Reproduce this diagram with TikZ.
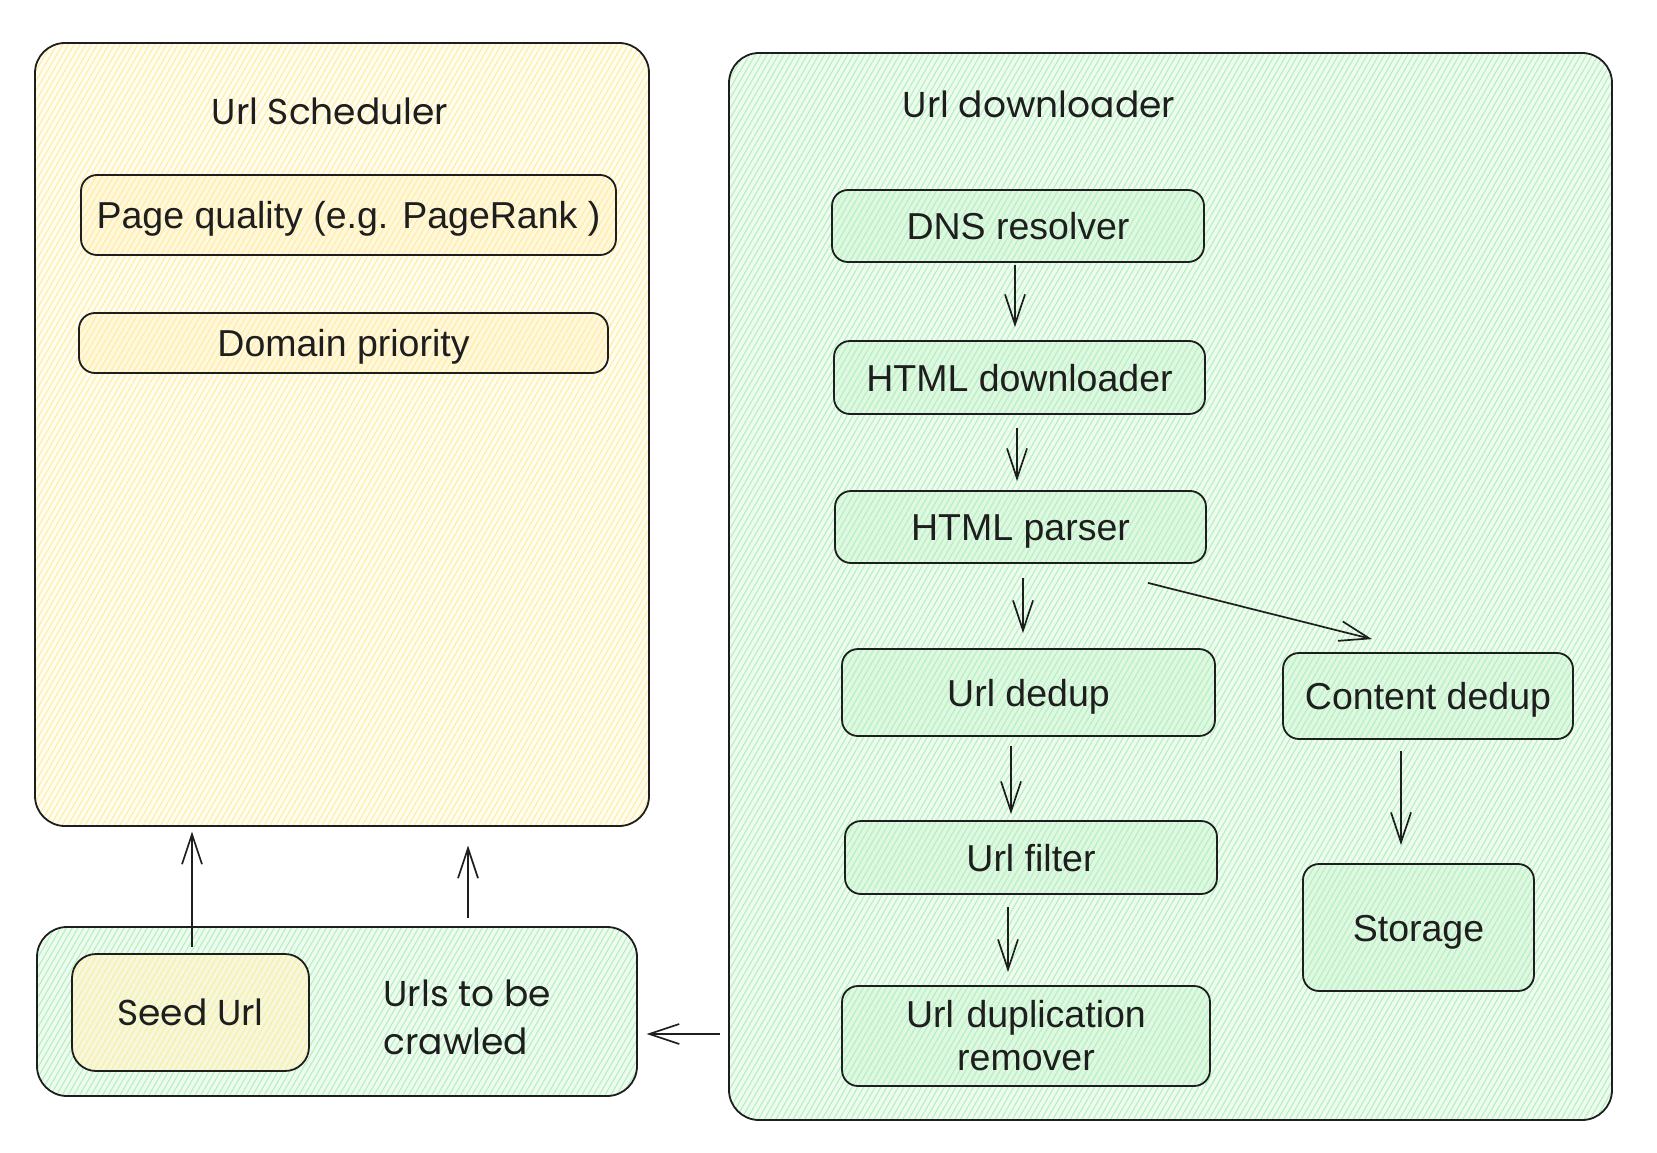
\documentclass[tikz,border=0pt]{standalone}
\usepackage{fontspec}
\setmainfont{Liberation Sans}
\newfontfamily\handfont{Poppins}
\usetikzlibrary{arrows.meta,patterns.meta}
\definecolor{yelfill}{HTML}{FFFDF0}
\definecolor{yelline}{HTML}{FFEBA0}
\definecolor{yelfillB}{HTML}{FFF8DC}
\definecolor{seedfill}{HTML}{F4F8DC}
\definecolor{grnfill}{HTML}{EFFBF1}
\definecolor{grnline}{HTML}{B2F2BB}
\definecolor{grnfillB}{HTML}{DFF7E3}
\definecolor{ink}{HTML}{1E1E1E}
\tikzset{
  lbl/.style={font=\fontsize{37.5}{44}\selectfont, text=ink},
  onel/.style={text height=27pt, text depth=0pt},
  hand/.style={font=\handfont\fontsize{36}{48}\selectfont, text=ink},
  ybig/.style={draw=ink, line width=1.8pt, rounded corners=30pt,
    preaction={fill=yelfill}, pattern={Lines[angle=60,distance=5pt,line width=1pt]}, pattern color=yelline},
  gbig/.style={draw=ink, line width=1.8pt, rounded corners=30pt,
    preaction={fill=grnfill}, pattern={Lines[angle=60,distance=5pt,line width=1.1pt]}, pattern color=grnline},
  ybox/.style={draw=ink, line width=1.8pt, rounded corners=16pt, lbl, onel,
    preaction={fill=yelfillB}, pattern={Lines[angle=60,distance=5pt,line width=1pt]}, pattern color=yelline},
  gbox/.style={draw=ink, line width=1.8pt, rounded corners=16pt, lbl, align=center,
    preaction={fill=grnfillB}, pattern={Lines[angle=60,distance=5pt,line width=1.1pt]}, pattern color=grnline},
  sbox/.style={draw=ink, line width=1.8pt, rounded corners=24pt, hand,
    preaction={fill=seedfill}, pattern={Lines[angle=60,distance=5pt,line width=1pt]}, pattern color=yelline},
  arr/.style={draw=ink, line width=1.7pt, -{Straight Barb[length=30pt,width=20pt,line width=1.7pt]}},
}
\begin{document}
\begin{tikzpicture}[x=1pt,y=-1pt]
\useasboundingbox[fill=white] (0,0) rectangle (1657,1153);
% containers
\node[ybig, minimum width=614pt, minimum height=783pt] (sched) at (342,434.5) {};
\node[gbig, minimum width=600pt, minimum height=169pt] (urls) at (337,1011.5) {};
\node[gbig, minimum width=883pt, minimum height=1067pt] (down) at (1170.5,586.5) {};
% titles
\node[hand] (schedtitle) at (330,111) {Url Scheduler};
\node[hand] (downtitle) at (1039,104) {Url downloader};
% scheduler contents
\node[ybox, minimum width=535pt, minimum height=80pt] (pq) at (348.5,215) {Page quality (e.g. PageRank )};
\node[ybox, minimum width=529pt, minimum height=60pt] (dp) at (343.5,343) {Domain priority};
% urls contents
\node[sbox, minimum width=237pt, minimum height=117pt] (seed) at (190.5,1012.5) {Seed Url};
\node[hand, anchor=west, align=left] (crawl) at (380,1017) {Urls to be\\crawled};
% downloader contents
\node[gbox, onel, minimum width=372pt, minimum height=72pt] (dns) at (1018,226) {DNS resolver};
\node[gbox, onel, minimum width=371pt, minimum height=73pt] (hdl) at (1019.5,377.5) {HTML downloader};
\node[gbox, onel, minimum width=371pt, minimum height=72pt] (hp) at (1020.5,527) {HTML parser};
\node[gbox, onel, minimum width=373pt, minimum height=87pt] (ud) at (1028.5,692.5) {Url dedup};
\node[gbox, onel, minimum width=372pt, minimum height=73pt] (uf) at (1031,857.5) {Url filter};
\node[gbox, minimum width=368pt, minimum height=100pt, text width=340pt] (ur) at (1026,1036) {Url duplication\\[-1pt]remover};
\node[gbox, onel, minimum width=290pt, minimum height=86pt] (cd) at (1428,696) {Content dedup};
\node[gbox, onel, minimum width=231pt, minimum height=127pt] (st) at (1418.5,927.5) {Storage};
% arrows
\draw[arr, shorten <=2pt, shorten >=13pt] (dns.south -| 1015,0) -- (hdl.north -| 1015,0);
\draw[arr, shorten <=13pt, shorten >=9pt] (hdl.south -| 1017,0) -- (hp.north -| 1017,0);
\draw[arr, shorten <=14pt, shorten >=15pt] (hp.south -| 1023,0) -- (ud.north -| 1023,0);
\coordinate (pc1) at ([shift={(-59,19)}]hp.south east);
\coordinate (pc2) at ([shift={(-56,-13)}]cd.north);
\draw[arr] (pc1) -- (pc2);
\draw[arr, shorten <=9pt, shorten >=6pt] (ud.south -| 1011,0) -- (uf.north -| 1011,0);
\draw[arr, shorten <=12pt, shorten >=13pt] (uf.south -| 1008,0) -- (ur.north -| 1008,0);
\draw[arr, shorten <=11pt, shorten >=18pt] (cd.south -| 1401,0) -- (st.north -| 1401,0);
\draw[arr, shorten <=8pt, shorten >=9pt] (down.west |- 0,1034) -- (urls.east |- 0,1034);
\draw[arr, shorten <=6pt, shorten >=5pt] (seed.north -| 192,0) -- (sched.south -| 192,0);
\draw[arr, shorten <=8pt, shorten >=19pt] (urls.north -| 468,0) -- (sched.south -| 468,0);
\end{tikzpicture}
\end{document}
